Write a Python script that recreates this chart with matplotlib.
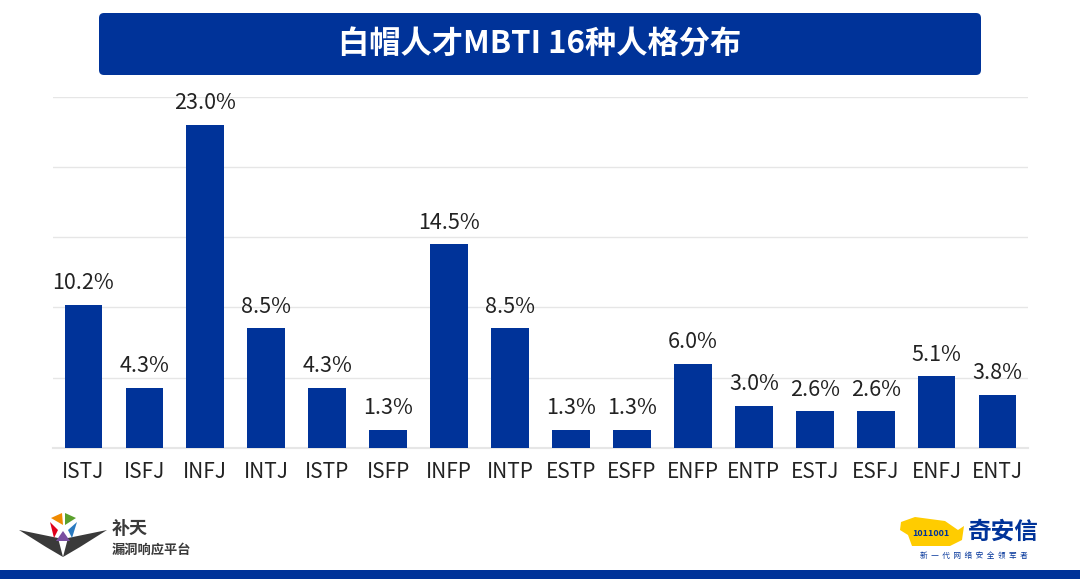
import matplotlib.pyplot as plt
from matplotlib.patches import FancyBboxPatch, Rectangle, Polygon

plt.rcParams['font.family'] = ['Noto Sans CJK SC', 'DejaVu Sans']

types = ['ISTJ', 'ISFJ', 'INFJ', 'INTJ', 'ISTP', 'ISFP', 'INFP', 'INTP',
         'ESTP', 'ESFP', 'ENFP', 'ENTP', 'ESTJ', 'ESFJ', 'ENFJ', 'ENTJ']
pct = [10.2, 4.3, 23.0, 8.5, 4.3, 1.3, 14.5, 8.5,
       1.3, 1.3, 6.0, 3.0, 2.6, 2.6, 5.1, 3.8]
title = '白帽人才MBTI 16种人格分布'

blue = '#003399'

fig = plt.figure(figsize=(10.8, 5.79), dpi=100)
W, H = 1080, 579

# axes placement in pixels
left, right, bottom, top = 53, 1028, 448, 96.5
ax = fig.add_axes([left / W, 1 - bottom / H, (right - left) / W, (bottom - top) / H])

x = range(len(types))
ax.bar(x, pct, width=0.62, color=blue, zorder=3)
for i, v in enumerate(pct):
    ax.text(i, v + 0.75, f'{v:.1f}%', ha='center', va='bottom', fontsize=15.5, color='#222222')

ax.set_xlim(-0.5, len(types) - 0.5)
ax.set_ylim(0, 25)
ax.set_yticks([0, 5, 10, 15, 20, 25])
ax.yaxis.grid(True, color='#e6e6e6', linewidth=1, zorder=0)
ax.tick_params(axis='y', left=False, labelleft=False)
ax.tick_params(axis='x', length=0, pad=9, labelsize=15, labelcolor='#222222')
ax.set_xticks(list(x))
ax.set_xticklabels(types)
for s in ['top', 'right', 'left']:
    ax.spines[s].set_visible(False)
ax.spines['bottom'].set_color('#e6e6e6')
ax.spines['bottom'].set_linewidth(1.5)

# title banner
ov = fig.add_axes([0, 0, 1, 1], zorder=-1)
ov.set_xlim(0, W)
ov.set_ylim(H, 0)
ov.axis('off')
ov.add_patch(FancyBboxPatch((99, 13), 882, 62, boxstyle='round,pad=0,rounding_size=5',
                            facecolor=blue, edgecolor='none'))
ov.text(540, 45, title, ha='center', va='center', color='white', fontsize=22.5, fontweight='bold')

# bottom strip
ov.add_patch(Rectangle((0, 570), W, 9, facecolor=blue, edgecolor='none'))

# left logo (simplified)
ov.add_patch(Polygon([[19, 530], [58, 538], [63, 557], [46, 547]], facecolor='#3a3a3a'))
ov.add_patch(Polygon([[107, 530], [68, 538], [63, 557], [80, 547]], facecolor='#3a3a3a'))
ov.add_patch(Polygon([[51, 518], [62, 513], [63, 525]], facecolor='#f08a00'))
ov.add_patch(Polygon([[65, 513], [76, 518], [65, 525]], facecolor='#5aa02c'))
ov.add_patch(Polygon([[50, 522], [58, 530], [54, 538]], facecolor='#e0001b'))
ov.add_patch(Polygon([[77, 522], [68, 530], [72, 538]], facecolor='#2a7ac0'))
ov.add_patch(Polygon([[56, 541], [70, 541], [63, 531]], facecolor='#7a4fa0'))
ov.text(112, 529, '补天', fontsize=13, fontweight='bold', color='#3a3a3a', va='center')
ov.text(112, 550, '漏洞响应平台', fontsize=9.5, fontweight='bold', color='#3a3a3a', va='center')

# right logo (simplified)
ov.add_patch(Polygon([[901, 522], [915, 517], [945, 521], [958, 530], [964, 526],
                      [962, 540], [950, 546], [912, 546], [908, 535], [900, 530]],
                     facecolor='#ffcc00'))
ov.text(912, 534, '1011001', fontsize=6.5, color=blue, va='center', fontweight='bold')
ov.text(1003, 532, '奇安信', fontsize=17, fontweight='bold', color=blue, ha='center', va='center')
ov.text(974, 556, '新  一  代  网  络  安  全  领  军  者', fontsize=5.5, color=blue,
        ha='center', va='center')

fig.savefig('out.png', dpi=100)
